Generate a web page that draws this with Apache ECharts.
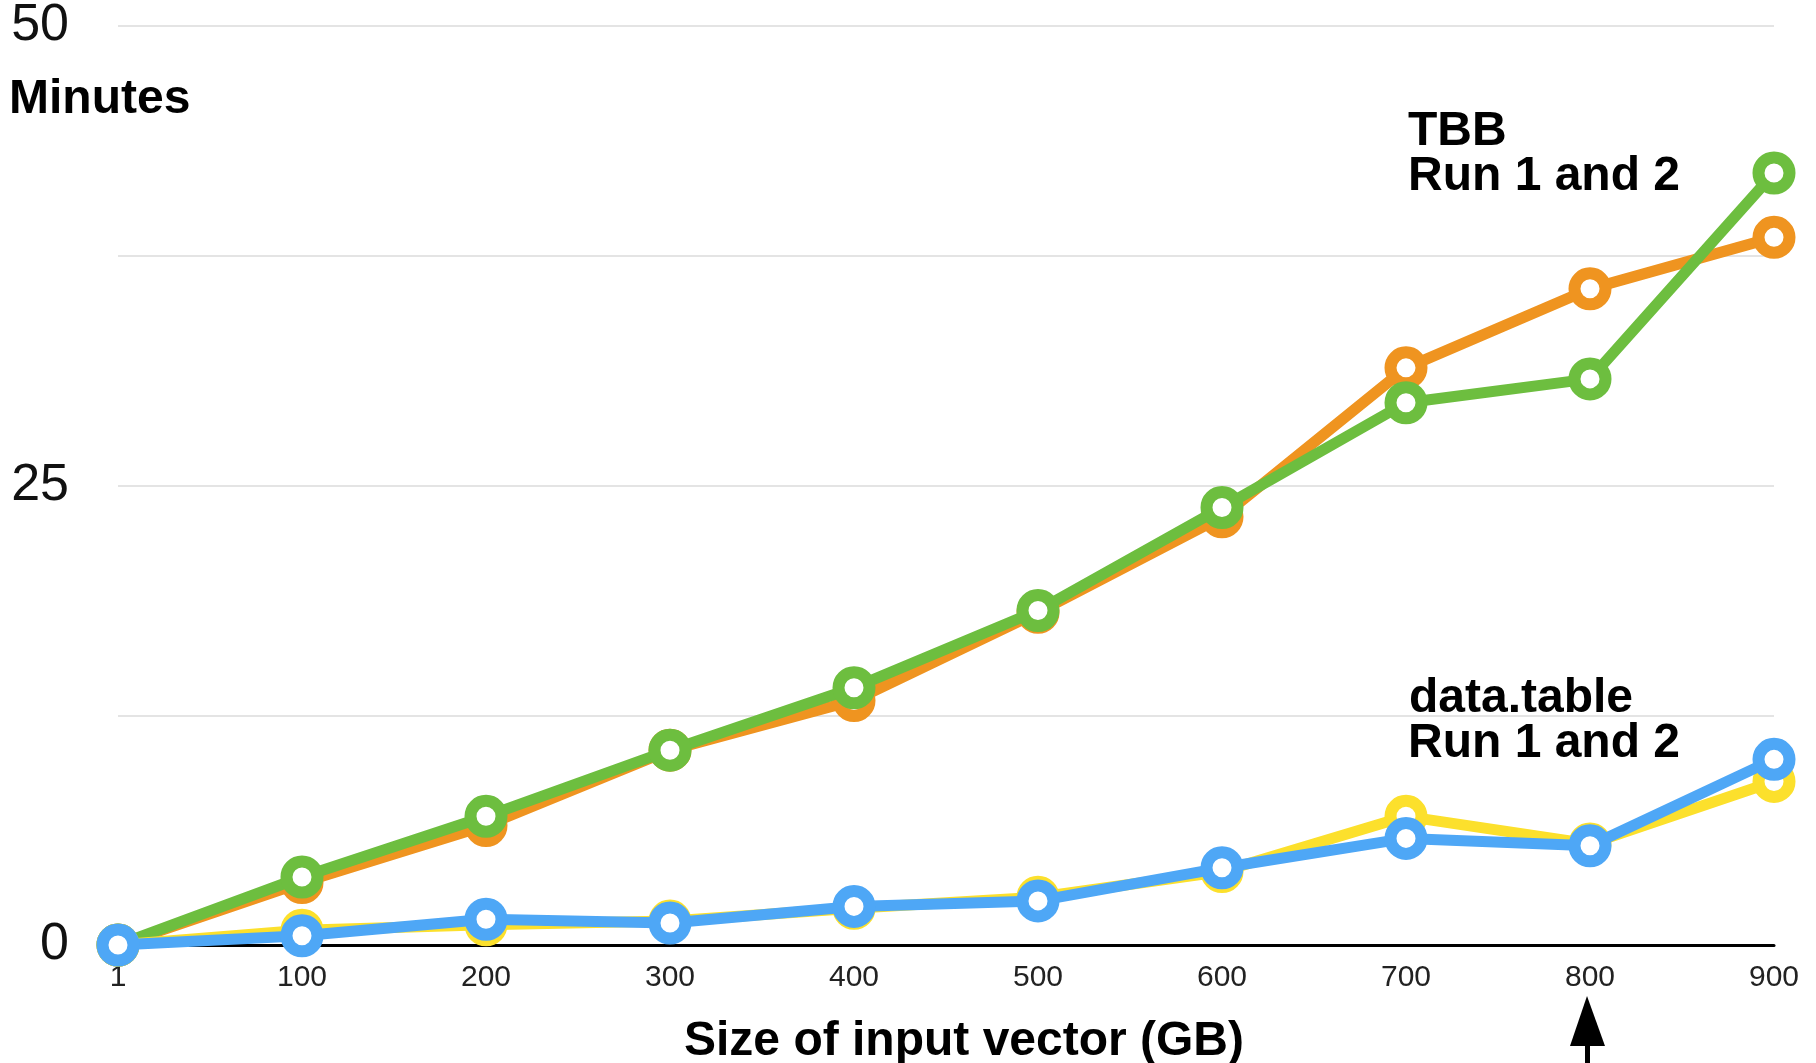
<!DOCTYPE html>
<html>
<head>
<meta charset="utf-8">
<script src="https://cdn.jsdelivr.net/npm/echarts@6/dist/echarts.min.js"></script>
<style>
html,body{margin:0;padding:0;background:#fff;}
#c{width:1816px;height:1063px;}
</style>
</head>
<body>
<div id="c"></div>
<script>
var categories = ['1','100','200','300','400','500','600','700','800','900'];
var tbbRun1 = [0, 3.4, 6.5, 10.6, 13.3, 18.1, 23.3, 31.4, 35.7, 38.5];
var tbbRun2 = [0, 3.7, 7.0, 10.6, 14.0, 18.2, 23.8, 29.5, 30.8, 42.0];
var dtRun1  = [0, 0.8, 1.1, 1.3, 2.0, 2.6, 4.0, 7.0, 5.5, 8.9];
var dtRun2  = [0, 0.5, 1.4, 1.2, 2.1, 2.4, 4.2, 5.8, 5.4, 10.1];
var yTickLabels = {0:'0', 25:'25', 50:'50'};

var colors = {orange:'#EF9420', green:'#6DBE3F', yellow:'#FCE02C', blue:'#4EA7F6'};
var font = '"Liberation Sans", Arial, Helvetica, sans-serif';

function mkSeries(name, data, c, z) {
  return {
    name: name, type: 'line', data: data, z: z,
    symbol: 'circle', symbolSize: 31,
    itemStyle: {color: '#fff', borderColor: c, borderWidth: 12},
    lineStyle: {color: c, width: 11},
    emphasis: {disabled: true},
    animation: false
  };
}

var chart = echarts.init(document.getElementById('c'));
chart.setOption({
  animation: false,
  backgroundColor: '#fff',
  grid: {left: 118, right: 42, top: 26, bottom: 118, containLabel: false, outerBoundsMode: 'none'},
  xAxis: {
    type: 'category', data: categories, boundaryGap: false,
    axisLine: {lineStyle: {color: '#000', width: 3}},
    axisTick: {show: false},
    axisLabel: {color: '#222', fontSize: 30, fontFamily: font, margin: 18}
  },
  yAxis: {
    type: 'value', min: 0, max: 50, interval: 12.5,
    axisLine: {show: false}, axisTick: {show: false},
    splitLine: {lineStyle: {color: '#e4e4e4', width: 2}},
    axisLabel: {
      color: '#111', fontSize: 52, fontFamily: font, margin: 49,
      formatter: function (v) { return yTickLabels[v] !== undefined ? yTickLabels[v] : ''; }
    }
  },
  series: [
    mkSeries('TBB Run 1', tbbRun1, colors.orange, 2),
    mkSeries('TBB Run 2', tbbRun2, colors.green, 3),
    mkSeries('data.table Run 1', dtRun1, colors.yellow, 4),
    mkSeries('data.table Run 2', dtRun2, colors.blue, 5)
  ]
});

var bold = 'bold 48px ' + font;
var x800 = chart.convertToPixel({xAxisIndex: 0}, '800');
var y0 = chart.convertToPixel({yAxisIndex: 0}, 0);
var x700 = chart.convertToPixel({xAxisIndex: 0}, '700');

chart.setOption({
  graphic: [
    {type: 'text', left: 9, top: 76, style: {text: 'Minutes', font: bold, fill: '#000'}},
    {type: 'text', x: x700 + 2, y: 132, style: {text: 'TBB', font: bold, fill: '#000', verticalAlign: 'middle'}},
    {type: 'text', x: x700 + 2, y: 177, style: {text: 'Run 1 and 2', font: bold, fill: '#000', verticalAlign: 'middle'}},
    {type: 'text', x: x700 + 3, y: 699, style: {text: 'data.table', font: bold, fill: '#000', verticalAlign: 'middle'}},
    {type: 'text', x: x700 + 2, y: 744, style: {text: 'Run 1 and 2', font: bold, fill: '#000', verticalAlign: 'middle'}},
    {type: 'text', x: 964, y: 1042, style: {text: 'Size of input vector (GB)', font: bold, fill: '#000', align: 'center', verticalAlign: 'middle'}},
    {type: 'polygon', shape: {points: [[x800 - 3, y0 + 51], [x800 - 20, y0 + 101], [x800 + 15, y0 + 101]]}, style: {fill: '#000'}},
    {type: 'rect', shape: {x: x800 - 5, y: y0 + 100, width: 5, height: 30}, style: {fill: '#000'}}
  ]
});
</script>
</body>
</html>
